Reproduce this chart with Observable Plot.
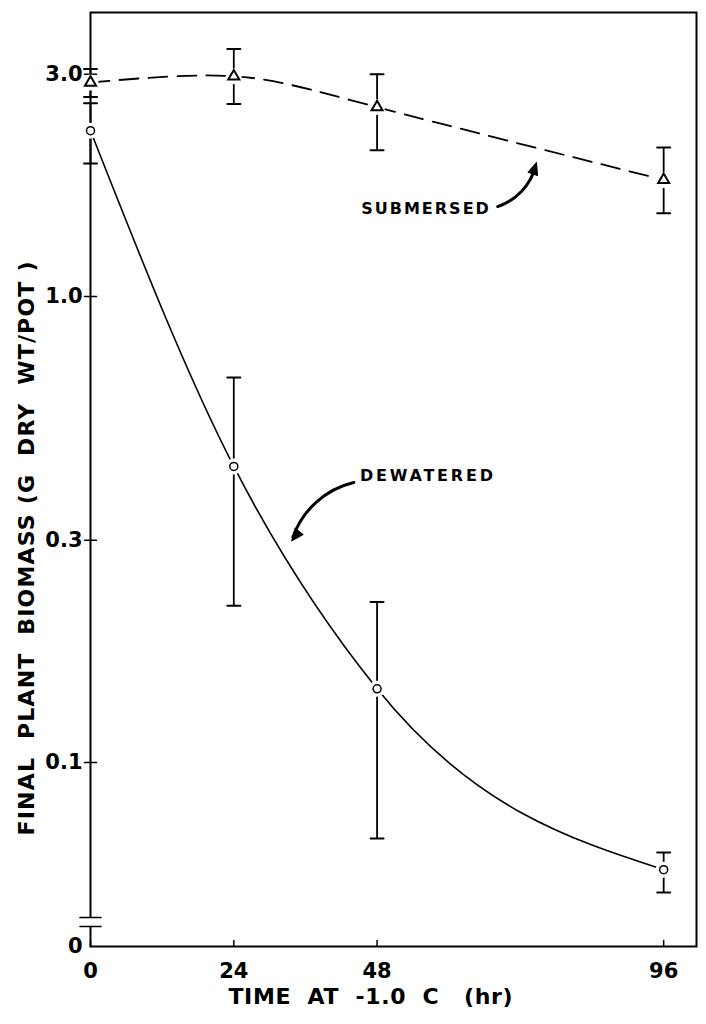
<!DOCTYPE html>
<html><head><meta charset="utf-8">
<script src="https://cdn.jsdelivr.net/npm/d3@7"></script>
<script src="https://cdn.jsdelivr.net/npm/@observablehq/plot@0.6"></script>
<style>body{margin:0;background:#fff;} svg{display:block}</style>
</head><body><div id="chart"></div>
<script>
const hours = [0, 24, 48, 96];
const submersed = [2.88, 2.97, 2.55, 1.78];
const submersedLo = [2.68, 2.59, 2.06, 1.51];
const submersedHi = [3.08, 3.40, 3.00, 2.09];
const dewatered = [2.27, 0.432, 0.144, 0.0589];
const dewateredLo = [1.93, 0.217, 0.0687, 0.0526];
const dewateredHi = [2.60, 0.670, 0.221, 0.0641];
const xTicks = [0, 24, 48, 96];
const yTicks = [3, 1, 0.3, 0.1];
const yTickLabels = ["3.0", "1.0", "0.3", "0.1"];
const yZero = 0.0403;   // broken-axis floor, labelled "0"
const yMax = 4.07;
const xMax = 101.5;
const breakMarks = [0.0465, 0.0445];
const annotations = ["SUBMERSED", "DEWATERED"];
const annX = [56.2, 56.5];
const annY = [1.54, 0.413];
const arrowX1 = [68.2, 44.1];
const arrowY1 = [1.56, 0.399];
const arrowX2 = [74.7, 33.7];
const arrowY2 = [1.94, 0.299];
const arrowHeadAngle = [18, 218];
const xLabel = "TIME  AT  -1.0  C   (hr)";
const yLabel = "FINAL  PLANT  BIOMASS (G  DRY  WT/POT )";

const sub = hours.map((h, i) => ({h, v: submersed[i], lo: submersedLo[i], hi: submersedHi[i]}));
const dew = hours.map((h, i) => ({h, v: dewatered[i], lo: dewateredLo[i], hi: dewateredHi[i]}));
const both = [...sub, ...dew];
const tickShape = {draw(ctx, l) { ctx.moveTo(0, 0); ctx.lineTo(0, -l); }};
const headShape = {draw(ctx, l) { ctx.moveTo(0, 0); ctx.lineTo(-5, 12); ctx.lineTo(5, 12); ctx.closePath(); }};
const arrowIdx = [0, 1];

const chart = Plot.plot({
  width: 706, height: 1024,
  marginTop: 12, marginBottom: 78, marginLeft: 90, marginRight: 10,
  style: {fontFamily: "DejaVu Sans", fontSize: "22px", background: "white", color: "black"},
  x: {domain: [0, xMax]},
  y: {type: "log", domain: [yZero, yMax]},
  marks: [
    Plot.frame({strokeWidth: 2}),
    Plot.ruleX([0], {y1: breakMarks[1], y2: breakMarks[0], stroke: "white", strokeWidth: 6}),
    Plot.vector(breakMarks, {y: d => d, frameAnchor: "left", length: 21, rotate: 90, anchor: "middle", shape: tickShape, strokeWidth: 1.6}),
    Plot.axisX(xTicks, {tickSize: 0, tickPadding: 17, fontSize: 21, fontWeight: "bold", label: null, tickFormat: d => String(d)}),
    Plot.vector(xTicks, {x: d => d, frameAnchor: "bottom", length: 6, rotate: 0, anchor: "start", shape: tickShape, strokeWidth: 1.5}),
    Plot.axisY([...yTicks, yZero], {tickSize: 0, tickPadding: 8, fontSize: 21, fontWeight: "bold", label: null,
      tickFormat: d => d === yZero ? "0" : yTickLabels[yTicks.indexOf(d)]}),
    Plot.vector(yTicks, {y: d => d, frameAnchor: "left", length: 12, rotate: 90, anchor: "middle", shape: tickShape, strokeWidth: 1.5}),
    Plot.line(sub, {x: "h", y: "v", curve: "natural", strokeDasharray: "19,10", strokeWidth: 1.8}),
    Plot.line(dew, {x: "h", y: "v", curve: "monotone-x", strokeWidth: 1.6}),
    Plot.ruleX(both, {x: "h", y1: "lo", y2: "hi", strokeWidth: 1.8}),
    Plot.vector(both, {x: "h", y: "lo", length: 13, rotate: 90, anchor: "middle", shape: tickShape, strokeWidth: 2}),
    Plot.vector(both, {x: "h", y: "hi", length: 13, rotate: 90, anchor: "middle", shape: tickShape, strokeWidth: 2}),
    Plot.dot(both, {x: "h", y: "v", r: 8, fill: "white", stroke: null}),
    Plot.dot(sub, {x: "h", y: "v", symbol: "triangle", r: 4.1, fill: "white", stroke: "black", strokeWidth: 2}),
    Plot.dot(dew, {x: "h", y: "v", r: 4, fill: "white", stroke: "black", strokeWidth: 1.5}),
    Plot.arrow(arrowIdx, {x1: i => arrowX1[i], y1: i => arrowY1[i], x2: i => arrowX2[i], y2: i => arrowY2[i],
      bend: -30, headLength: 0, strokeWidth: 3, insetEnd: 4}),
    Plot.vector(arrowIdx, {x: i => arrowX2[i], y: i => arrowY2[i], rotate: i => arrowHeadAngle[i], length: 12, anchor: "start",
      shape: headShape, fill: "black", stroke: "black", strokeWidth: 1, strokeLinejoin: "round"}),
    Plot.text(annotations, {x: (d, i) => annX[i], y: (d, i) => annY[i], text: d => d, fontSize: 16, fontWeight: "bold"}),
    Plot.text([xLabel], {frameAnchor: "bottom-left", textAnchor: "start", dx: 138, dy: 57, fontSize: 22, fontWeight: "bold", text: d => d}),
    Plot.text([yLabel], {frameAnchor: "left", textAnchor: "start", rotate: -90, dx: -64, dy: 356, fontSize: 22, fontWeight: "bold", text: d => d})
  ]
});
document.getElementById("chart").appendChild(chart);
const sel = d3.select(chart).selectAll("text");
sel.filter(function() { return this.textContent === "SUBMERSED"; }).style("letter-spacing", "2px");
sel.filter(function() { return this.textContent === "DEWATERED"; }).style("letter-spacing", "2.8px");
sel.filter(function() { return this.textContent === xLabel; }).style("white-space", "pre").style("letter-spacing", "0.6px");
sel.filter(function() { return this.textContent === yLabel; }).style("white-space", "pre").style("letter-spacing", "1.2px");
</script>
</body></html>
